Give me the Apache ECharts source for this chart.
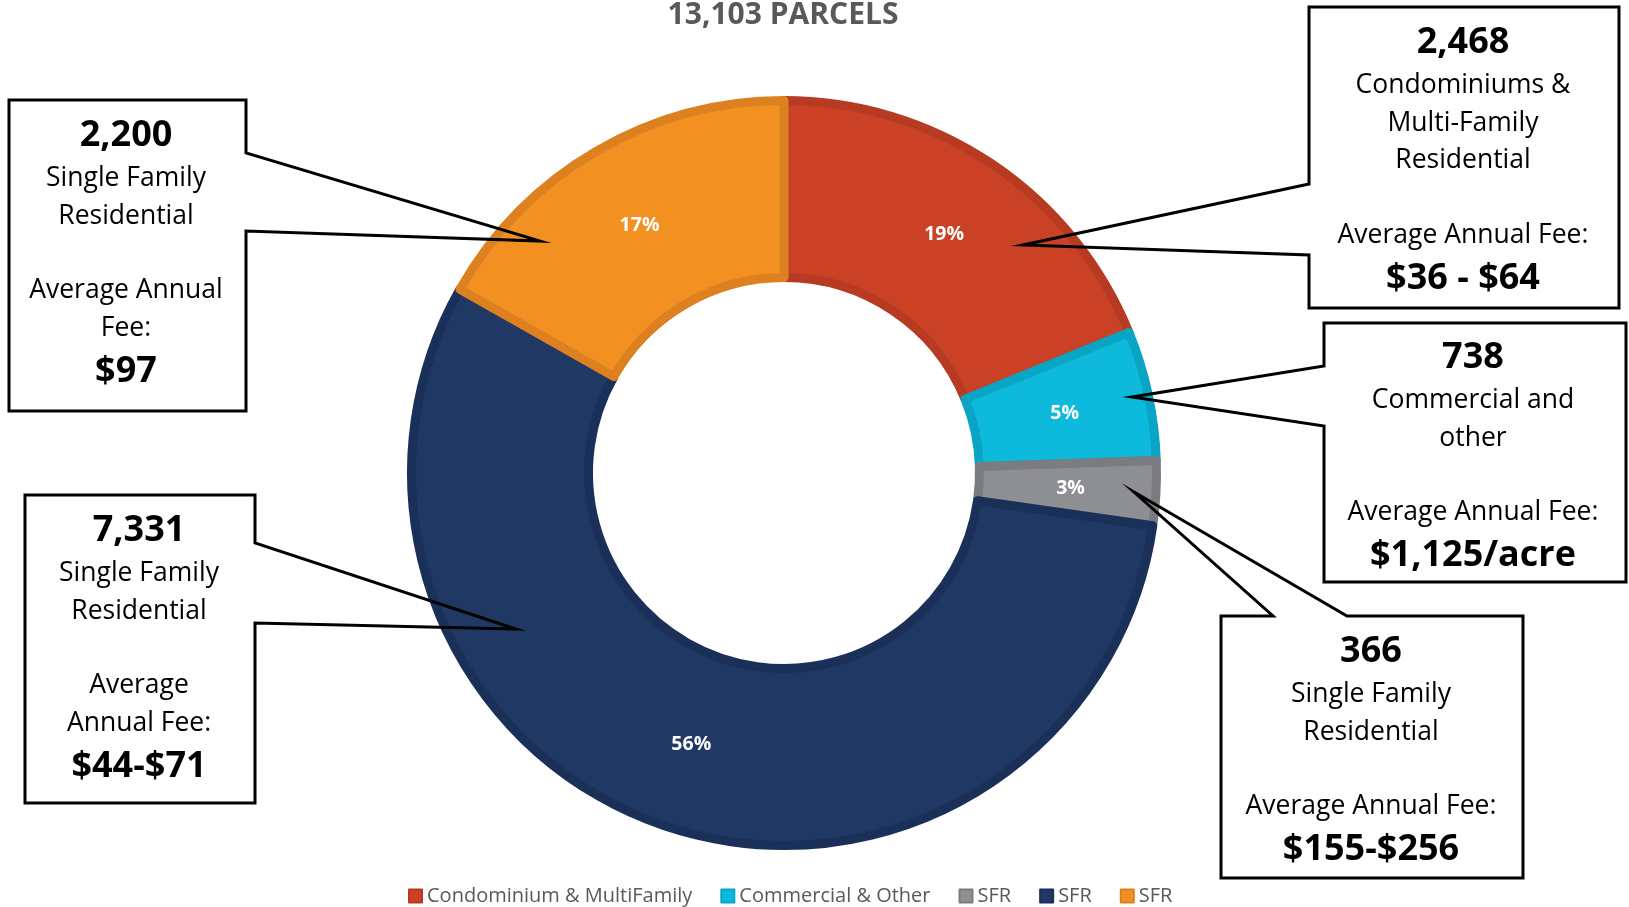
<!DOCTYPE html>
<html>
<head>
<meta charset="utf-8">
<script src="https://cdn.jsdelivr.net/npm/echarts@6/dist/echarts.min.js"></script>
<style>
  html, body { margin: 0; padding: 0; background: #fff; }
  #chart { width: 1629px; height: 907px; }
</style>
</head>
<body>
<div id="chart"></div>
<script>
// dados do gráfico
const categories = ['Condominium & MultiFamily', 'Commercial & Other', 'SFR', 'SFR', 'SFR'];
const parcels = [2468, 738, 366, 7331, 2200];
const pctLabels = ['19%', '5%', '3%', '56%', '17%'];
const totalLabel = '13,103 PARCELS';

// textos dos balões (mesma ordem das fatias)
const calloutDesc = [
  ['Condominiums &', 'Multi-Family', 'Residential'],
  ['Commercial and', 'other'],
  ['Single Family', 'Residential'],
  ['Single Family', 'Residential'],
  ['Single Family', 'Residential']
];
const calloutFeeLabel = [
  ['Average Annual Fee:'],
  ['Average Annual Fee:'],
  ['Average Annual Fee:'],
  ['Average', 'Annual Fee:'],
  ['Average Annual', 'Fee:']
];
const calloutFees = ['$36 - $64', '$1,125/acre', '$155-$256', '$44-$71', '$97'];

const sliceColors = ['#CA4125', '#0DBADB', '#8E8F93', '#1F3864', '#F39022'];
const sliceBorders = ['#B73A22', '#0AA5C4', '#7B7C80', '#1B3059', '#DD8120'];

const FONT = 'Open Sans';

var chartDom = document.getElementById('chart');
var myChart = echarts.init(chartDom);

// caixas: [left, top, right, bottom], cauda e posição do texto
const boxes = [
  { r: [1309, 7, 1619, 308], tail: [[1309, 184], [1023, 245], [1309, 255]], side: 'left', tx: 1463, ty: 18 },
  { r: [1324, 323, 1626, 582], tail: [[1324, 366], [1132, 397], [1324, 426]], side: 'left', tx: 1473, ty: 333 },
  { r: [1221, 616, 1523, 878], tail: [[1273, 616], [1134, 492], [1347, 616]], side: 'top', tx: 1371, ty: 627 },
  { r: [25, 495, 255, 803], tail: [[255, 543], [516, 629], [255, 623]], side: 'right', tx: 139, ty: 506 },
  { r: [9, 100, 246, 411], tail: [[246, 153], [540, 241], [246, 231]], side: 'right', tx: 126, ty: 111 }
];

function boxPoints(b) {
  const [l, t, r, bt] = b.r;
  const [a, tip, c] = b.tail;
  if (b.side === 'left') return [[l, t], [r, t], [r, bt], [l, bt], c, tip, a];
  if (b.side === 'right') return [[l, t], [r, t], a, tip, c, [r, bt], [l, bt]];
  return [[l, t], a, tip, c, [r, t], [r, bt], [l, bt]];
}

const graphics = [];
boxes.forEach(function (b, i) {
  graphics.push({
    type: 'polygon',
    shape: { points: boxPoints(b) },
    style: { fill: 'rgba(255,255,255,0)', stroke: '#000', lineWidth: 3, lineJoin: 'miter' },
    z: 100
  });
  const lines = ['{n|' + parcels[i].toLocaleString('en-US') + '}']
    .concat(calloutDesc[i].map(s => '{t|' + s + '}'))
    .concat(['{t| }'])
    .concat(calloutFeeLabel[i].map(s => '{t|' + s + '}'))
    .concat(['{n|' + calloutFees[i] + '}']);
  graphics.push({
    type: 'text',
    x: b.tx,
    y: b.ty,
    z: 101,
    style: {
      text: lines.join('\n'),
      align: 'center',
      verticalAlign: 'top',
      fill: '#000',
      rich: {
        n: { fontSize: 36, fontWeight: 'bold', lineHeight: 49, fontFamily: FONT, fill: '#000', align: 'center' },
        t: { fontSize: 26.5, lineHeight: 37.4, fontFamily: FONT, fill: '#000', align: 'center' }
      }
    }
  });
});

const option = {
  animation: false,
  title: {
    text: totalLabel,
    left: 778,
    textAlign: 'center',
    top: -5,
    textStyle: { fontFamily: FONT, fontSize: 30, fontWeight: 'bold', color: '#595959' }
  },
  legend: {
    left: 403,
    top: 881,
    icon: 'rect',
    itemWidth: 13,
    itemHeight: 13,
    itemGap: 28,
    selectedMode: false,
    formatter: function (name) { return name.split('#')[0]; },
    textStyle: { fontFamily: FONT, fontSize: 20, color: '#595959' }
  },
  series: [
    {
      type: 'pie',
      center: [784, 473],
      radius: [195.5, 372.5],
      startAngle: 90,
      clockwise: true,
      avoidLabelOverlap: false,
      silent: true,
      label: {
        show: true,
        position: 'inside',
        formatter: function (p) { return pctLabels[p.dataIndex]; },
        color: '#fff',
        fontFamily: FONT,
        fontWeight: 'bold',
        fontSize: 19.5
      },
      labelLine: { show: false },
      data: parcels.map(function (v, i) {
        return {
          name: categories[i] + '#' + i,
          value: v,
          itemStyle: { color: sliceColors[i], borderColor: sliceBorders[i], borderWidth: 9 }
        };
      })
    }
  ],
  graphic: graphics
};

myChart.setOption(option);
</script>
</body>
</html>
